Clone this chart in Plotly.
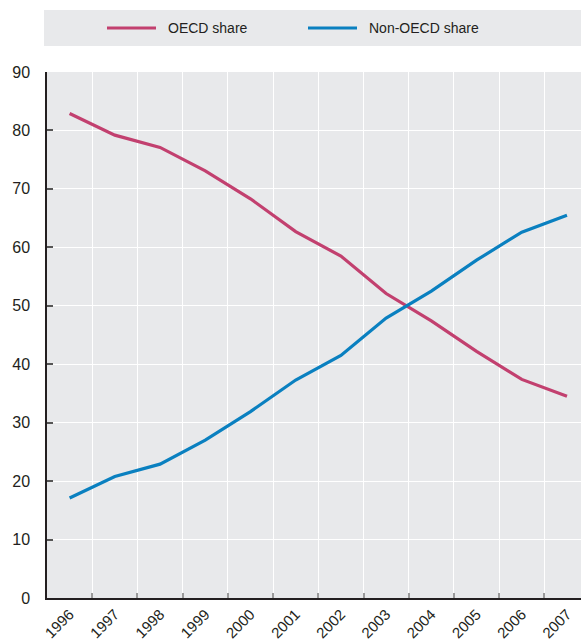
import plotly.graph_objects as go

years = ["1996", "1997", "1998", "1999", "2000", "2001", "2002", "2003", "2004", "2005", "2006", "2007"]
oecd_share = [82.9, 79.2, 77.1, 73.1, 68.3, 62.7, 58.5, 52.1, 47.4, 42.2, 37.4, 34.5]
non_oecd_share = [17.1, 20.8, 22.9, 27.0, 31.9, 37.3, 41.5, 47.9, 52.5, 57.8, 62.6, 65.5]
series_names = ["OECD share", "Non-OECD share"]
y_ticks = [0, 10, 20, 30, 40, 50, 60, 70, 80, 90]

c_oecd = "#c2406f"
c_non = "#0a80c0"
FONT = "Liberation Sans Narrow, Arial Narrow, Liberation Sans, Arial, sans-serif"

fig = go.Figure()
fig.add_trace(go.Scatter(x=years, y=oecd_share, mode="lines", name=series_names[0],
                         line=dict(color=c_oecd, width=3.2)))
fig.add_trace(go.Scatter(x=years, y=non_oecd_share, mode="lines", name=series_names[1],
                         line=dict(color=c_non, width=3.2)))

W, H = 581, 639
ml, mt, mr = 47, 72, 0
mb = H - 598
pw = W - ml - mr
ph = H - mt - mb

def px_x(x):
    return (x - ml) / pw

def px_y(y):
    return (H - mb - y) / ph

shapes = [
    dict(type="rect", xref="paper", yref="paper", x0=px_x(44), x1=px_x(581),
         y0=px_y(46), y1=px_y(10), fillcolor="#e8e9eb", line=dict(width=0), layer="below"),
    dict(type="line", xref="paper", yref="paper", x0=px_x(107), x1=px_x(156),
         y0=px_y(28), y1=px_y(28), line=dict(color=c_oecd, width=3.2)),
    dict(type="line", xref="paper", yref="paper", x0=px_x(308), x1=px_x(357),
         y0=px_y(28), y1=px_y(28), line=dict(color=c_non, width=3.2)),
]
annotations = [
    dict(text=series_names[0], xref="paper", yref="paper", x=px_x(166), y=px_y(28),
         xanchor="left", yanchor="middle", showarrow=False,
         font=dict(family=FONT, size=14, color="#231f20")),
    dict(text=series_names[1], xref="paper", yref="paper", x=px_x(367), y=px_y(28),
         xanchor="left", yanchor="middle", showarrow=False,
         font=dict(family=FONT, size=14, color="#231f20")),
]

fig.update_layout(
    width=W, height=H,
    margin=dict(l=ml, r=mr, t=mt, b=mb, pad=0),
    paper_bgcolor="white",
    plot_bgcolor="#e8e9eb",
    showlegend=False,
    font=dict(family=FONT, size=15, color="#231f20"),
    shapes=shapes,
    annotations=annotations,
    xaxis=dict(
        type="category", range=[-0.5, 11.31], automargin=False,
        tickson="boundaries", ticks="inside", ticklen=5, tickcolor="#9a9a9a", tickwidth=1.5,
        showgrid=True, gridcolor="white", gridwidth=1,
        showline=True, linecolor="#231f20", linewidth=1.5,
        tickangle=-45, tickfont=dict(size=15), zeroline=False,
    ),
    yaxis=dict(
        range=[0, 90], tickvals=y_ticks, automargin=False,
        ticks="inside", ticklen=6, tickcolor="#555555",
        tickwidth=1.5, showgrid=True, gridcolor="white", gridwidth=1,
        showline=True, linecolor="#231f20", linewidth=1.5, zeroline=False,
        tickfont=dict(size=16), ticklabelstandoff=12,
    ),
)

fig.write_html(
    "out.html",
    config={"displayModeBar": False},
    post_script="document.body.style.margin='0';document.body.style.overflow='hidden';"
                "document.documentElement.style.overflow='hidden';",
)
